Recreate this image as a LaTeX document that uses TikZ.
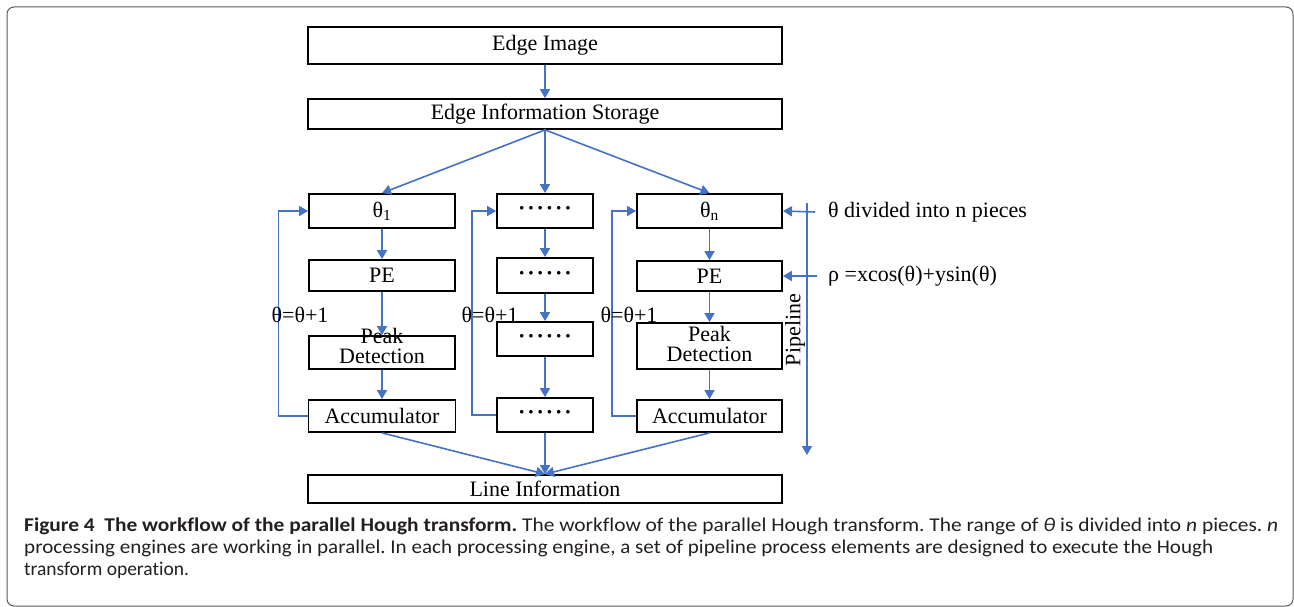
\documentclass[tikz,border=0pt]{standalone}
\usepackage{fontspec}
\usepackage{graphicx}
\setmainfont{Liberation Serif}
\newfontfamily\capfont[Ligatures=NoCommon]{Carlito}
\usetikzlibrary{arrows.meta}
\definecolor{flowblue}{HTML}{4472C4}
\definecolor{framegray}{HTML}{5A5A5A}
\definecolor{captext}{HTML}{231F20}

% two-line label whose box does not enlarge the node
\newcommand\peaktext[1]{\raisebox{#1}[0pt][0pt]{\begin{tabular}{@{}c@{}}Peak\\[-2pt]Detection\end{tabular}}}
% row of six centred dots
\newcommand\dd{\textbf{·}}
\newcommand\dotrow{\dd\kern1.9pt\dd\kern1.9pt\dd\kern1.9pt\dd\kern1.9pt\dd\kern1.9pt\dd}
% caption line set to a given width
\newcommand\capline[2]{\resizebox{#1}{\height}{#2}}

\begin{document}
\frenchspacing
\begin{tikzpicture}[x=1pt,y=-1pt,
  box/.style={draw=black, line width=1.8pt, rectangle, inner sep=0pt,
              font=\fontsize{22}{22}\selectfont},
  flow/.style={draw=flowblue, line width=1.6pt, -{Triangle[length=9pt,width=10pt]}},
  lbl/.style={inner sep=0pt, font=\fontsize{22}{22}\selectfont},
  captionline/.style={inner sep=0pt, anchor=base west, text=captext,
              font=\capfont\fontsize{19.5}{19.5}\selectfont}
]
\useasboundingbox (0,0) rectangle (1294,607);
\draw[framegray, line width=1pt, rounded corners=7pt] (7,7) rectangle (1293,606);

% top stages
\node[box, minimum width=474pt, minimum height=37pt] (img)   at (545,45.5) {Edge Image};
\node[box, minimum width=474pt, minimum height=30pt] (store) at (545,114)  {Edge Information Storage};

% first processing engine
\node[box, minimum width=146pt, minimum height=34pt] (t1)   at (382,211)   {θ\textsubscript{1}};
\node[box, minimum width=146pt, minimum height=31pt] (pe1)  at (382,275.5) {PE};
\node[box, minimum width=146pt, minimum height=33pt] (pk1)  at (382,352.5) {\peaktext{-2pt}};
\node[box, minimum width=147pt, minimum height=32pt] (acc1) at (382,416)   {Accumulator};

% middle processing engine
\node[box, minimum width=96pt, minimum height=34pt] (d1) at (545,211)   {\dotrow};
\node[box, minimum width=96pt, minimum height=35pt] (d2) at (545,275.5) {\dotrow};
\node[box, minimum width=96pt, minimum height=34pt] (d3) at (545,339)   {\dotrow};
\node[box, minimum width=96pt, minimum height=34pt] (d4) at (545,415)   {\dotrow};

% last processing engine
\node[box, minimum width=145pt, minimum height=34pt] (tn)   at (709.5,211) {θ\textsubscript{n}};
\node[box, minimum width=145pt, minimum height=30pt] (pen)  at (709.5,276) {PE};
\node[box, minimum width=145pt, minimum height=46pt] (pkn)  at (709.5,346) {\peaktext{-6pt}};
\node[box, minimum width=145pt, minimum height=32pt] (accn) at (709.5,416) {Accumulator};

% result
\node[box, minimum width=474pt, minimum height=28pt] (line) at (545,489) {Line Information};

% connectors
\draw[flow] (img.south) -- (store.north);
\draw[flow] (store.south) -- (t1.north);
\draw[flow] (store.south) -- (d1.north);
\draw[flow] (store.south) -- (tn.north);

\draw[flow] (t1) -- (pe1);
\draw[flow] (pe1) -- (pk1);
\draw[flow] (pk1) -- (acc1);
\draw[flow] (d1) -- (d2);
\draw[flow] (d2) -- (d3);
\draw[flow] (d3) -- (d4);
\draw[flow] (tn) -- (pen);
\draw[flow] (pen) -- (pkn);
\draw[flow] (pkn) -- (accn);

% feedback loops
\draw[flow] (acc1.west) -- ++(-29,0) |- (t1.west);
\draw[flow] (d4.west) -- ++(-24,0) |- (d1.west);
\draw[flow] (accn.west) -- ++(-24,0) |- (tn.west);
\node[lbl] (inc1) at (300,315) {θ=θ+1};
\node[lbl] (inc2) at (490,315) {θ=θ+1};
\node[lbl] (inc3) at (629,315) {θ=θ+1};

\draw[flow] (acc1.south) -- (line.north);
\draw[flow] (d4.south) -- (line.north);
\draw[flow] (accn.south) -- (line.north);

% pipeline direction and side notes
\coordinate (pTop) at (807,203);
\coordinate (pBot) at (807,455);
\draw[flow] (pTop) -- (pBot);
\node[lbl, rotate=90] (pipe) at (795,330) {Pipeline};

\node[lbl, anchor=west] (divnote) at (828,212) {θ divided into n pieces};
\node[lbl, anchor=west] (rhonote) at (828,276) {ρ =xcos(θ)+ysin(θ)};
\draw[flow] ([xshift=-13pt]divnote.west) -- (tn.east);
\draw[flow] ([xshift=-11pt]rhonote.west) -- (pen.east);

% caption
\node[captionline] (cap1) at (24,531) {\capline{1254pt}{\textbf{Figure 4\hspace{0.45em}The workflow of the parallel Hough transform.} The workflow of the parallel Hough transform. The range of \textit{θ} is divided into \textit{n} pieces. \textit{n}}};
\node[captionline] (cap2) at (24,553) {\capline{1189pt}{processing engines are working in parallel. In each processing engine, a set of pipeline process elements are designed to execute the Hough}};
\node[captionline] (cap3) at (24,575) {transform operation.};
\end{tikzpicture}
\end{document}
